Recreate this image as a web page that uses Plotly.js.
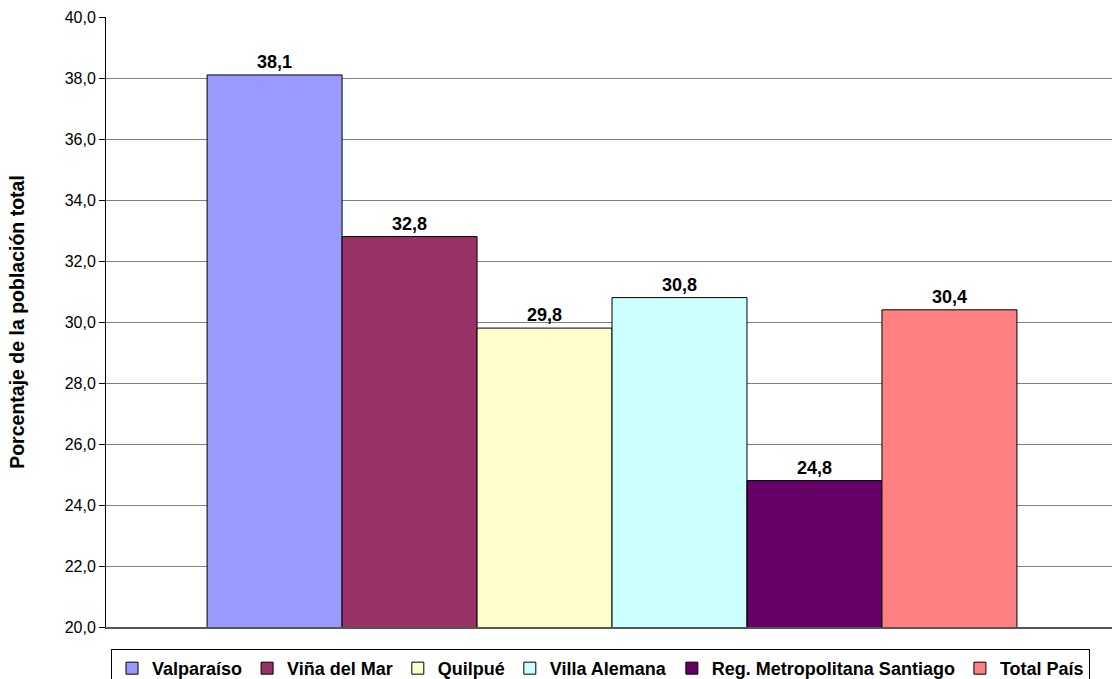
<!DOCTYPE html>
<html>
<head>
<meta charset="utf-8">
<script src="https://cdn.plot.ly/plotly-3.0.1.min.js"></script>
<style>
html,body{margin:0;padding:0;background:#fff;}
#chart{width:1112px;height:679px;}
</style>
</head>
<body>
<div id="chart"></div>
<script>
const seriesNames = ['Valparaíso', 'Viña del Mar', 'Quilpué', 'Villa Alemana', 'Reg. Metropolitana Santiago', 'Total País'];
const seriesValues = [38.1, 32.8, 29.8, 30.8, 24.8, 30.4];
const seriesColors = ['#9999FF', '#993366', '#FFFFCC', '#CCFFFF', '#660066', '#FF8080'];
const category = ['2002'];
const yTickValues = [20, 22, 24, 26, 28, 30, 32, 34, 36, 38, 40];

const FONT = '"Liberation Sans", Arial, sans-serif';

const traces = seriesNames.map((name, i) => ({
  type: 'bar',
  name: name,
  x: category,
  y: [seriesValues[i]],
  marker: { color: seriesColors[i], line: { color: '#000000', width: 1 } },
  texttemplate: '%{y:.1f}',
  textposition: 'outside',
  textfont: { family: FONT, size: 18, color: '#000000', weight: 'bold' },
  cliponaxis: false,
  hoverinfo: 'skip'
}));

const layout = {
  width: 1112,
  height: 679,
  margin: { l: 106, r: 0, t: 17, b: 52, autoexpand: false },
  paper_bgcolor: '#ffffff',
  plot_bgcolor: '#ffffff',
  separators: ',.',
  font: { family: FONT, color: '#000000' },
  barmode: 'group',
  bargap: 0.195,
  bargroupgap: 0,
  showlegend: true,
  xaxis: {
    type: 'category',
    range: [-0.503, 0.497],
    showticklabels: false,
    ticks: '',
    showgrid: false,
    zeroline: false,
    showline: true,
    linecolor: '#555555',
    linewidth: 1.5,
    fixedrange: true
  },
  yaxis: {
    range: [20, 40],
    tickvals: yTickValues,
    tickformat: '.1f',
    ticks: 'outside',
    ticklen: 6,
    tickcolor: '#000000',
    tickfont: { family: FONT, size: 16, color: '#000000' },
    showgrid: true,
    gridcolor: '#808080',
    gridwidth: 1,
    zeroline: false,
    showline: true,
    linecolor: '#000000',
    linewidth: 1,
    title: {
      text: 'Porcentaje de la población total',
      font: { family: FONT, size: 19.5, color: '#000000', weight: 'bold' },
      standoff: 34
    },
    automargin: false,
    fixedrange: true
  },
  legend: {
    orientation: 'h',
    x: 0.005,
    xanchor: 'left',
    y: -0.036,
    yanchor: 'top',
    bordercolor: '#000000',
    borderwidth: 1,
    bgcolor: '#ffffff',
    font: { family: FONT, size: 18, color: '#000000', weight: 'bold' },
    traceorder: 'normal',
    itemwidth: 30
  }
};

Plotly.newPlot('chart', traces, layout, { displayModeBar: false, staticPlot: true });
</script>
</body>
</html>
